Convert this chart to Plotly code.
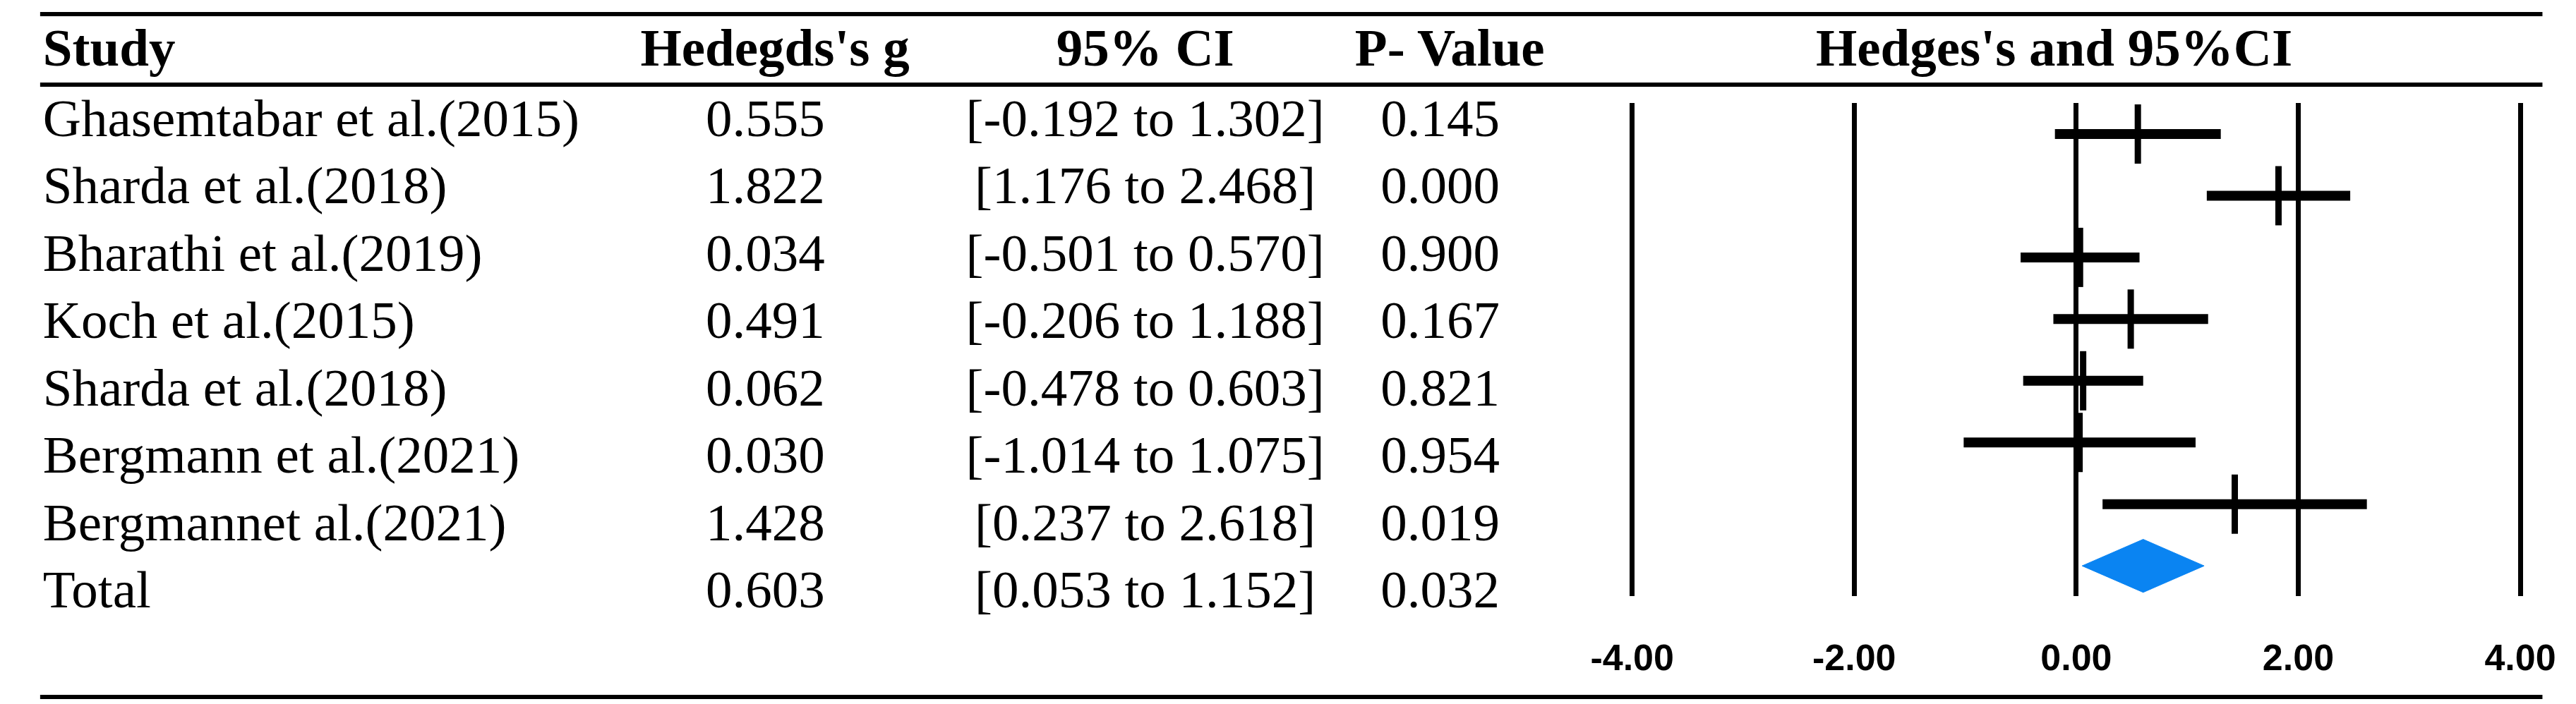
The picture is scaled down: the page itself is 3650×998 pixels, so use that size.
import plotly.graph_objects as go

# study data
studies = ["Ghasemtabar et al.(2015)", "Sharda et al.(2018)", "Bharathi et al.(2019)",
           "Koch et al.(2015)", "Sharda et al.(2018)", "Bergmann et al.(2021)",
           "Bergmannet al.(2021)"]
hedges_g = [0.555, 1.822, 0.034, 0.491, 0.062, 0.030, 1.428]
ci_low = [-0.192, 1.176, -0.501, -0.206, -0.478, -1.014, 0.237]
ci_high = [1.302, 2.468, 0.570, 1.188, 0.603, 1.075, 2.618]
p_values = [0.145, 0.000, 0.900, 0.167, 0.821, 0.954, 0.019]

total_label = "Total"
total_g = 0.603
total_low = 0.053
total_high = 1.152
total_p = 0.032

headers = ["Study", "Hedegds's g", "95% CI", "P- Value", "Hedges's and 95%CI"]
x_ticks = [-4, -2, 0, 2, 4]

W, H = 3650, 998
serif = "Liberation Serif, Times New Roman, serif"
FS = 75

labels = studies + [total_label]
g_all = hedges_g + [total_g]
lo_all = ci_low + [total_low]
hi_all = ci_high + [total_high]
p_all = p_values + [total_p]
rows = list(range(len(labels)))

g_txt = [f"{v:.3f}" for v in g_all]
ci_txt = [f"[{a:.3f} to {b:.3f}]" for a, b in zip(lo_all, hi_all)]
p_txt = [f"{v:.3f}" for v in p_all]

fig = go.Figure()

# table columns (x in pixel units of the canvas)
def col(x, txt, pos):
    fig.add_trace(go.Scatter(
        x=[x] * len(txt), y=rows, text=txt, mode="text", textposition=pos,
        textfont=dict(family=serif, size=FS, color="black"),
        xaxis="x", yaxis="y", hoverinfo="skip", showlegend=False))

col(10, labels, "middle right")
col(1056, g_txt, "middle center")
col(1606, ci_txt, "middle center")
col(2033, p_txt, "middle center")

# header row
hdr_x = [10, 1070, 1606, 2047, 2922]
hdr_pos = ["middle right", "middle center", "middle center", "middle center", "middle center"]
for hx, ht, hp in zip(hdr_x, headers, hdr_pos):
    fig.add_trace(go.Scatter(
        x=[hx], y=[-1.047], text=[f"<b>{ht}</b>"], mode="text", textposition=hp,
        textfont=dict(family=serif, size=FS, color="black"),
        xaxis="x", yaxis="y", hoverinfo="skip", showlegend=False))

# forest: CI bars with vertical tick for the estimate
n = len(studies)
fig.add_trace(go.Scatter(
    x=hedges_g, y=list(range(n)), mode="markers",
    marker=dict(symbol="line-ns", size=60, color="black",
                line=dict(color="black", width=9)),
    error_x=dict(type="data", symmetric=False,
                 array=[h - g for g, h in zip(hedges_g, ci_high)],
                 arrayminus=[g - l for g, l in zip(hedges_g, ci_low)],
                 thickness=14, width=0, color="black"),
    xaxis="x2", yaxis="y2", hoverinfo="skip", showlegend=False))

# summary diamond
half = 0.43
fig.add_trace(go.Scatter(
    x=[total_low, total_g, total_high, total_g, total_low],
    y=[n, n - half, n, n + half, n],
    mode="lines", fill="toself", fillcolor="#0a84f2",
    line=dict(color="#0a84f2", width=1),
    xaxis="x2", yaxis="y2", hoverinfo="skip", showlegend=False))

def hline(ypix, w=6):
    return dict(type="line", xref="paper", yref="paper",
                x0=6 / W, x1=3629 / W, y0=1 - ypix / H, y1=1 - ypix / H,
                line=dict(color="black", width=w))

fig.update_layout(
    width=W, height=H, autosize=False,
    margin=dict(l=0, r=0, t=0, b=0),
    paper_bgcolor="white", plot_bgcolor="white",
    xaxis=dict(domain=[0, 1], range=[0, W], visible=False, fixedrange=True),
    yaxis=dict(domain=[0, 1], range=[(H - 166) / 95.5, -166 / 95.5], visible=False),
    xaxis2=dict(domain=[2295 / W, 3613 / W], range=[-4.1, 4.1], anchor="y2",
                tickvals=x_ticks, ticktext=[f"{v:.2f}" for v in x_ticks],
                showgrid=True, gridcolor="black", gridwidth=7, zeroline=False,
                showline=False, ticks="", ticklabelstandoff=52,
                ticklabeloverflow="allow",
                tickfont=dict(family="Liberation Sans Narrow, Arial Narrow, Liberation Sans, Arial",
                              size=52, color="black", weight="bold")),
    yaxis2=dict(domain=[(H - 837) / H, (H - 138) / H], range=[7.49, -0.503],
                anchor="x2", visible=False),
    shapes=[hline(12), hline(112), hline(980)],
)

fig.write_html("out.html", config={"displayModeBar": False})
